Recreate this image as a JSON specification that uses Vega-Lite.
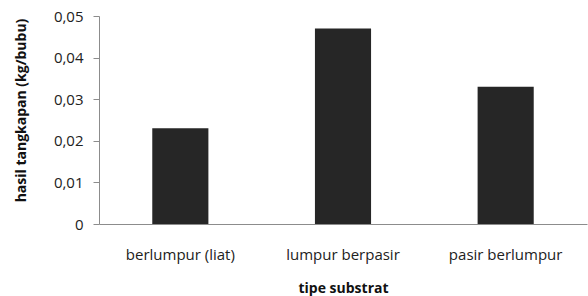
{
  "$schema": "https://vega.github.io/schema/vega-lite/v6.json",
  "width": 488,
  "height": 208,
  "autosize": {"type": "none"},
  "padding": {"left": 99, "top": 16, "right": 1, "bottom": 72},
  "background": "white",
  "data": {"values": [
    {"tipe": "berlumpur (liat)", "hasil": 0.023},
    {"tipe": "lumpur berpasir", "hasil": 0.047},
    {"tipe": "pasir berlumpur", "hasil": 0.033}
  ]},
  "config": {
    "view": {"stroke": null},
    "font": "Open Sans",
    "axis": {"grid": false, "domainColor": "#8c8c8c", "tickColor": "#8c8c8c", "labelColor": "#222222", "titleColor": "#111111", "labelFont": "Open Sans", "titleFont": "Open Sans"}
  },
  "mark": {"type": "bar", "color": "#262626"},
  "encoding": {
    "x": {
      "field": "tipe", "type": "nominal", "sort": null,
      "scale": {"paddingInner": 0.655, "paddingOuter": 0.3275},
      "axis": {"title": "tipe substrat", "labelAngle": 0, "ticks": false, "labelPadding": 23, "labelFontSize": 15, "titleFontSize": 14, "titleFontWeight": "bold", "titleY": 64, "titleBaseline": "middle"}
    },
    "y": {
      "field": "hasil", "type": "quantitative",
      "scale": {"domain": [0, 0.05], "nice": false},
      "axis": {"title": "hasil tangkapan (kg/bubu)", "values": [0, 0.01, 0.02, 0.03, 0.04, 0.05], "labelExpr": "datum.value == 0 ? '0' : replace(format(datum.value, '.2f'), '.', ',')", "tickSize": 6, "labelPadding": 10, "labelFontSize": 15, "titleFontSize": 14, "titleFontWeight": "bold", "titleX": -78, "titleY": 94, "titleAngle": -90, "titleAlign": "center", "titleBaseline": "middle"}
    }
  }
}
